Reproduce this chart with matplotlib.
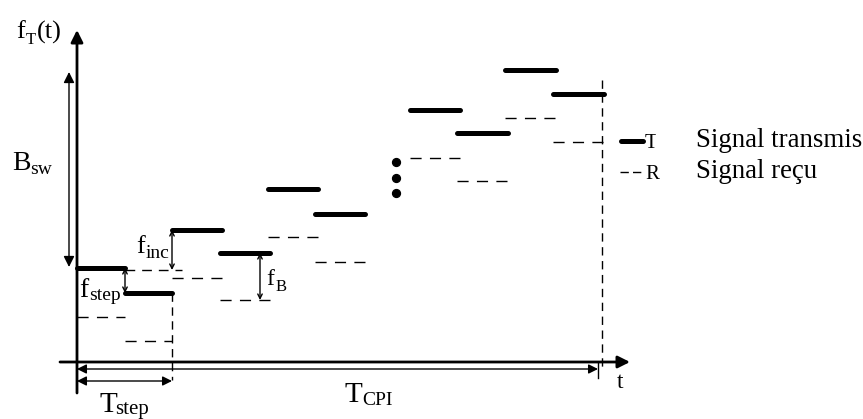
import matplotlib.pyplot as plt
from matplotlib.patches import Rectangle

plt.rcParams['font.family'] = ['Liberation Serif', 'DejaVu Serif']

# step start / end times (pixel-like units along t)
t_start = [77, 125, 172, 220, 268, 315, 410, 457, 505, 553]
t_end = [125, 172, 222, 270, 318, 365, 460, 508, 556, 604]
# transmitted and received frequencies (screen units, smaller = higher)
f_tx = [268, 293, 230, 253, 189, 214, 110, 133, 70, 94]
f_rx = [317, 341, 278, 300, 237, 262, 158, 181, 118, 142]
dots_y = [162, 178, 193]

fig = plt.figure(figsize=(8.63, 4.19), dpi=100)
ax = fig.add_axes([0, 0, 1, 1])
ax.set_xlim(0, 863)
ax.set_ylim(419, 0)
ax.axis('off')

# axes of the diagram
ax.annotate('', xy=(77, 30), xytext=(77, 393),
            arrowprops=dict(arrowstyle='-|>', lw=2, color='black',
                            mutation_scale=18, shrinkA=0, shrinkB=0))
ax.annotate('', xy=(630, 362), xytext=(60, 362),
            arrowprops=dict(arrowstyle='-|>', lw=2, color='black',
                            mutation_scale=18, shrinkA=0, shrinkB=0))

# steps
for x0, x1, ft, fr in zip(t_start, t_end, f_tx, f_rx):
    ax.plot([x0, x1], [ft, ft], color='black', lw=3.6, solid_capstyle='round')
    ax.plot([x0, x1], [fr, fr], color='black', lw=1, dashes=(8, 6))

ax.scatter([396] * len(dots_y), dots_y, s=32, color='black')

# reference dashed lines
ax.plot([125, 182], [f_tx[0] + 2, f_tx[0] + 2], color='black', lw=1, dashes=(7, 5))
ax.plot([172, 172], [f_tx[1], 380], color='black', lw=1, dashes=(6, 4))
ax.plot([602, 602], [80, 368], color='black', lw=1, dashes=(6, 4))
ax.plot([598, 598], [362, 378], color='black', lw=1)


def darrow(x0, y0, x1, y1, style='<|-|>', ms=14, lw=1):
    ax.annotate('', xy=(x1, y1), xytext=(x0, y0),
                arrowprops=dict(arrowstyle=style, lw=lw, color='black',
                                mutation_scale=ms, shrinkA=0, shrinkB=0))


darrow(69, 72, 69, 267, ms=16)
darrow(77, 369, 598, 369, ms=14)
darrow(77, 381, 172, 381, ms=14)
darrow(125, f_tx[0], 125, f_tx[1], style='<->', ms=8)
darrow(172, f_tx[2], 172, f_tx[0] + 2, style='<->', ms=8)
darrow(260, f_tx[3], 260, f_rx[3], style='<->', ms=8)


def sublabel(x, y, main, sub, size, subsize, xs, ys):
    ax.text(x, y, main, fontsize=size, va='baseline', ha='left')
    ax.text(xs, ys, sub, fontsize=subsize, va='baseline', ha='left')


# labels
sublabel(16, 38, 'f', 'T', 19, 12, 26, 44)
ax.text(37, 39, '(t)', fontsize=19, va='baseline', ha='left')
sublabel(12, 170, 'B', 'sw', 20, 14, 30, 174)
sublabel(136, 253, 'f', 'inc', 19, 14, 146, 258)
sublabel(79, 297, 'f', 'step', 20, 14, 89, 300)
sublabel(266, 285, 'f', 'B', 17, 12, 276, 291)
sublabel(99, 412, 'T', 'step', 21, 15, 115, 414)
sublabel(344, 402, 'T', 'CPI', 21, 14, 362, 405)
ax.text(617, 388, 't', fontsize=17, va='baseline', ha='left')

# legend (original labels partly covered by the overlay text)
ax.plot([621, 643], [141, 141], color='black', lw=3.6, solid_capstyle='round')
ax.plot([620, 644], [172, 172], color='black', lw=1, dashes=(6, 3))
ax.text(645, 148, 'T', fontsize=15, va='baseline', ha='left')
ax.text(645, 179, 'R', fontsize=15, va='baseline', ha='left')
ax.add_patch(Rectangle((656, 126), 207, 30, color='white', zorder=3))
ax.text(696, 147, 'Signal transmis', fontsize=19.4, va='baseline', ha='left', zorder=4)
ax.text(696, 178, 'Signal reçu', fontsize=19.4, va='baseline', ha='left', zorder=4)

fig.savefig('out.png', dpi=100)
